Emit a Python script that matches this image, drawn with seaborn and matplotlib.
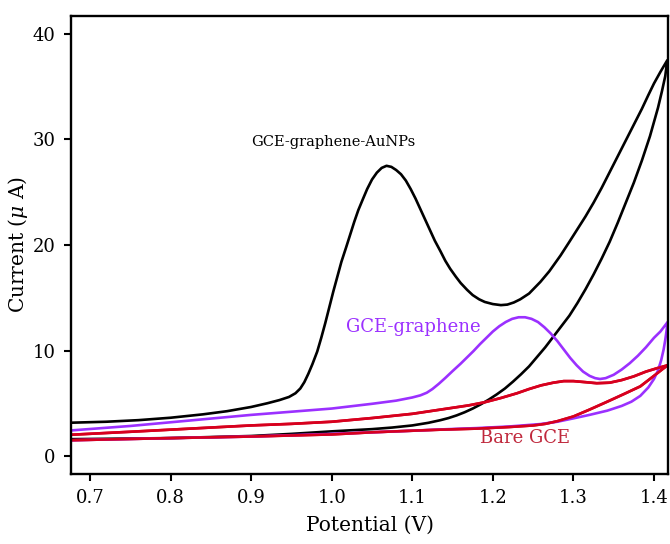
import numpy as np
import pandas as pd
import matplotlib
matplotlib.use("Agg")
import matplotlib.pyplot as plt
import seaborn as sns

# ---- data (potential V, current uA) ----
auc_fwd_x = [0.677, 0.72, 0.76, 0.80, 0.84, 0.87, 0.90, 0.92, 0.935, 0.947, 0.955, 0.961, 0.966,
             0.971, 0.976, 0.982, 0.987, 0.992, 0.997, 1.002, 1.007, 1.012, 1.018, 1.023, 1.028,
             1.033, 1.039, 1.044, 1.05, 1.056, 1.062, 1.068, 1.074, 1.08, 1.086, 1.092, 1.098,
             1.104, 1.11, 1.116, 1.122, 1.128, 1.135, 1.141, 1.147, 1.154, 1.16, 1.168, 1.175,
             1.183, 1.19, 1.2, 1.21, 1.218, 1.226, 1.234, 1.245, 1.259, 1.27, 1.284, 1.295,
             1.305, 1.315, 1.325, 1.335, 1.345, 1.355, 1.365, 1.375, 1.385, 1.393, 1.40, 1.408,
             1.4165]
auc_fwd_y = [3.16, 3.25, 3.4, 3.63, 3.95, 4.25, 4.65, 5.0, 5.3, 5.6, 5.95, 6.4, 7.0,
             7.8, 8.7, 9.9, 11.2, 12.6, 14.1, 15.6, 17.0, 18.4, 19.8, 21.0, 22.2,
             23.3, 24.4, 25.3, 26.2, 26.85, 27.3, 27.5, 27.4, 27.1, 26.7, 26.1, 25.3,
             24.4, 23.4, 22.4, 21.4, 20.4, 19.4, 18.5, 17.75, 17.0, 16.4, 15.75, 15.25,
             14.85, 14.6, 14.4, 14.3, 14.35, 14.55, 14.85, 15.4, 16.5, 17.5, 19.0, 20.3,
             21.5, 22.7, 24.0, 25.4, 26.9, 28.4, 29.9, 31.4, 32.9, 34.2, 35.3, 36.4,
             37.5]
auc_rev_x = [1.4165, 1.414, 1.41, 1.405, 1.395, 1.385, 1.375, 1.365, 1.355, 1.345, 1.335, 1.325,
             1.315, 1.305, 1.295, 1.285, 1.275, 1.265, 1.255, 1.245, 1.235, 1.225, 1.215, 1.205,
             1.195, 1.185, 1.175, 1.165, 1.155, 1.145, 1.135, 1.12, 1.10, 1.075, 1.05, 1.00,
             0.95, 0.90, 0.80, 0.677]
auc_rev_y = [37.5, 36.0, 34.6, 33.0, 30.3, 28.0, 25.9, 24.0, 22.1, 20.3, 18.7, 17.2,
             15.8, 14.5, 13.3, 12.3, 11.3, 10.3, 9.4, 8.5, 7.75, 7.05, 6.4, 5.85,
             5.35, 4.9, 4.5, 4.15, 3.85, 3.6, 3.4, 3.15, 2.9, 2.7, 2.55, 2.34,
             2.1, 1.9, 1.7, 1.6]

gr_fwd_x = [0.677, 0.75, 0.80, 0.85, 0.90, 0.95, 1.00, 1.05, 1.08, 1.10, 1.11, 1.118, 1.125,
            1.133, 1.141, 1.15, 1.16, 1.168, 1.176, 1.184, 1.192, 1.2, 1.208, 1.216, 1.224,
            1.232, 1.24, 1.248, 1.256, 1.264, 1.272, 1.28, 1.288, 1.296, 1.304, 1.312, 1.32,
            1.327, 1.333, 1.34, 1.35, 1.36, 1.37, 1.38, 1.39, 1.40, 1.408, 1.414, 1.417]
gr_fwd_y = [2.43, 2.85, 3.2, 3.55, 3.9, 4.2, 4.5, 4.95, 5.25, 5.55, 5.75, 6.0, 6.35,
            6.85, 7.4, 8.05, 8.75, 9.35, 9.95, 10.6, 11.2, 11.8, 12.3, 12.7, 13.0,
            13.15, 13.15, 13.0, 12.7, 12.2, 11.6, 10.9, 10.1, 9.3, 8.6, 8.0, 7.6,
            7.38, 7.3, 7.38, 7.7, 8.2, 8.8, 9.5, 10.3, 11.2, 11.8, 12.4, 12.7]
gr_rev_x = [1.417, 1.4155, 1.414, 1.412, 1.409, 1.405, 1.40, 1.393, 1.383, 1.372, 1.36, 1.342,
            1.32, 1.30, 1.28, 1.259, 1.22, 1.18, 1.135, 1.10, 1.05, 1.00, 0.90, 0.80, 0.677]
gr_rev_y = [12.7, 11.8, 11.0, 10.1, 9.1, 8.1, 7.3, 6.5, 5.7, 5.15, 4.75, 4.3,
            3.9, 3.57, 3.25, 3.03, 2.8, 2.65, 2.52, 2.4, 2.25, 2.1, 1.85, 1.7, 1.5]

bare_fwd_x = [0.677, 0.75, 0.80, 0.85, 0.90, 0.95, 1.00, 1.05, 1.10, 1.135, 1.17, 1.19, 1.21,
              1.23, 1.245, 1.26, 1.275, 1.288, 1.30, 1.315, 1.329, 1.345, 1.36, 1.375, 1.39,
              1.405, 1.417]
bare_fwd_y = [2.02, 2.3, 2.5, 2.7, 2.9, 3.05, 3.25, 3.6, 4.0, 4.4, 4.8, 5.1, 5.5,
              5.95, 6.35, 6.7, 6.95, 7.1, 7.1, 7.0, 6.9, 6.95, 7.2, 7.55, 8.0,
              8.35, 8.6]
bare_rev_x = [1.417, 1.41, 1.40, 1.383, 1.362, 1.342, 1.32, 1.30, 1.28, 1.265, 1.25, 1.22,
              1.18, 1.135, 1.10, 1.05, 1.00, 0.90, 0.80, 0.677]
bare_rev_y = [8.6, 8.2, 7.6, 6.6, 5.85, 5.15, 4.4, 3.75, 3.3, 3.05, 2.9, 2.75,
              2.6, 2.5, 2.4, 2.25, 2.05, 1.85, 1.7, 1.5]

x_ticks = [0.7, 0.8, 0.9, 1.0, 1.1, 1.2, 1.3, 1.4]
y_ticks = [0, 10, 20, 30, 40]

labels = ["GCE-graphene-AuNPs", "GCE-graphene", "Bare GCE"]

# ---- style ----
sns.set_style("ticks")
plt.rcParams["font.family"] = ["DejaVu Serif"]
plt.rcParams["mathtext.fontset"] = "dejavuserif"
plt.rcParams["text.color"] = "black"
plt.rcParams["axes.labelcolor"] = "black"
plt.rcParams["xtick.color"] = "black"
plt.rcParams["ytick.color"] = "black"

fig = plt.figure(figsize=(6.7, 5.44), dpi=100)
ax = fig.add_axes([0.106, 0.1287, 0.891, 0.842])

RED = "#d7001e"
PURPLE = "#9b30ff"
curves = [
    (auc_fwd_x + auc_rev_x, auc_fwd_y + auc_rev_y, "black"),
    (bare_fwd_x + bare_rev_x, bare_fwd_y + bare_rev_y, RED),
    (gr_fwd_x + gr_rev_x, gr_fwd_y + gr_rev_y, PURPLE),
]
for xs, ys, col in curves:
    df = pd.DataFrame({"E": xs, "I": ys})
    sns.lineplot(data=df, x="E", y="I", sort=False, estimator=None,
                 color=col, lw=1.9, ax=ax, solid_joinstyle="round")
df = pd.DataFrame({"E": bare_fwd_x + bare_rev_x, "I": bare_fwd_y + bare_rev_y})
sns.lineplot(data=df, x="E", y="I", sort=False, estimator=None, color=RED, lw=1.9, ax=ax,
             solid_joinstyle="round")

ax.set_xlim(0.6764, 1.4174)
ax.set_ylim(-1.7, 41.7)
ax.set_xticks(x_ticks)
ax.set_xticklabels([f"{v:.1f}" for v in x_ticks])
ax.set_yticks(y_ticks)
ax.tick_params(direction="out", length=5, width=1.5, labelsize=13, pad=6)
for s in ax.spines.values():
    s.set_linewidth(1.7)
    s.set_color("black")

ax.set_xlabel("Potential (V)", fontsize=14.5, labelpad=6)
ax.set_ylabel(r"Current ($\mu$ A)", fontsize=14.5, labelpad=2)

ax.text(1.0019, 29.8, labels[0], fontsize=10.5, color="black", ha="center", va="center")
ax.text(1.1012, 12.2, labels[1], fontsize=13, color=PURPLE, ha="center", va="center")
ax.text(1.2404, 1.7, labels[2], fontsize=13, color="#c0283c", ha="center", va="center")

fig.savefig("out.png", dpi=100)
